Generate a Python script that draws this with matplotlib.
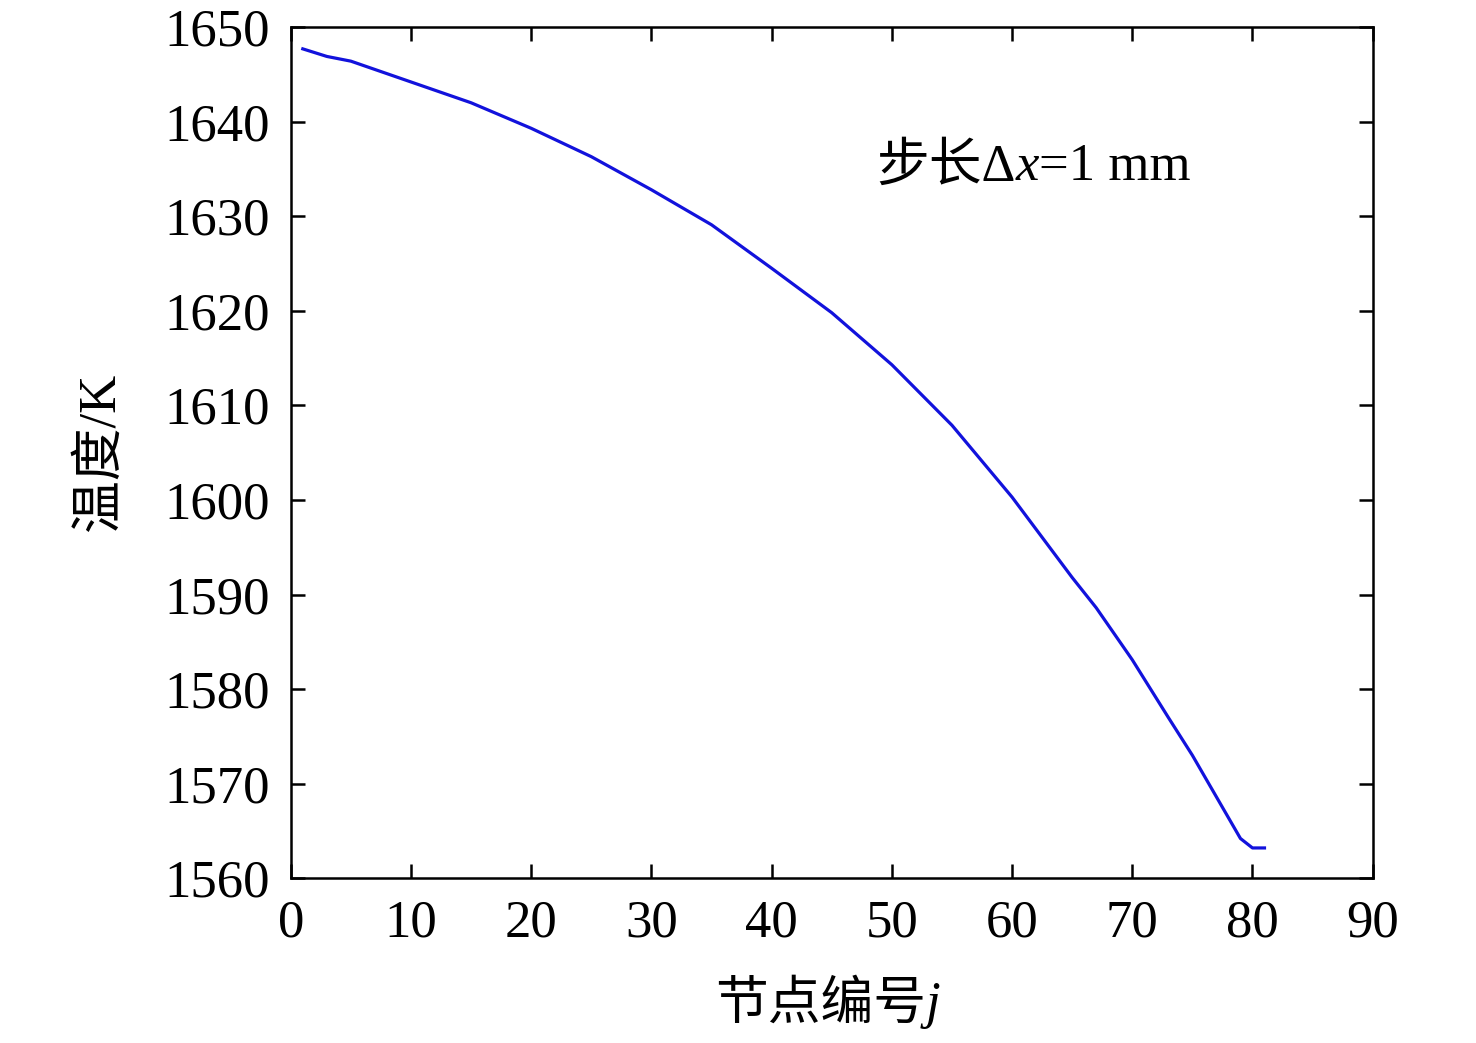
#!/usr/bin/env python

"""Temperature along nodes, step dx = 1 mm."""

import matplotlib
matplotlib.use("Agg")
import matplotlib.pyplot as plt

plt.rcParams["font.family"] = ["Liberation Serif", "Noto Sans CJK SC"]

nodes = [1, 3, 5, 10, 15, 20, 25, 30, 35, 40, 45, 50, 55, 60, 65, 67, 70, 73, 75, 79, 80, 81]
temps = [1647.7, 1646.9, 1646.4, 1644.2, 1642.0, 1639.3, 1636.3, 1632.8, 1629.1,
         1624.5, 1619.8, 1614.3, 1607.9, 1600.3, 1591.8, 1588.6, 1583.1, 1577.0,
         1573.0, 1564.2, 1563.2, 1563.2]

xticks = list(range(0, 91, 10))
yticks = list(range(1560, 1651, 10))

FS = 38


def chain_text(first, pieces):
    """Append text pieces (text, style) to the right of an existing text."""
    prev = first
    for txt, st in pieces:
        prev = first.axes.annotate(txt, xy=(1, 0.5), xycoords=prev, va="center",
                                   ha="left", fontsize=FS, style=st)
    return prev


fig = plt.figure(figsize=(14.76, 10.43), dpi=100)
ax = fig.add_axes([0.197, 0.158, 0.733, 0.816])
ax.plot(nodes, temps, color="#1212dc", linewidth=2.3)

ax.set_xlim(0, 90)
ax.set_ylim(1560, 1650)
ax.set_xticks(xticks)
ax.set_yticks(yticks)
ax.tick_params(direction="in", top=True, right=True, length=10, width=1.8,
               labelsize=FS, pad=15)
for s in ax.spines.values():
    s.set_linewidth(1.8)

# x label with an italic j
xl = fig.text(715 / 1476, 1 - 1005 / 1043, "节点编号", fontsize=FS,
              ha="left", va="center")
xl.axes = ax
chain_text(xl, [("j", "italic")])

fig.text(100 / 1476, 1 - 452 / 1043, "温度/K", fontsize=FS, rotation=90,
         ha="center", va="center")

note = ax.text(48.7, 1635.2, "步长Δ", fontsize=FS, va="center")
chain_text(note, [("x", "italic"), ("=1 mm", "normal")])

fig.savefig("out.png", dpi=100)
